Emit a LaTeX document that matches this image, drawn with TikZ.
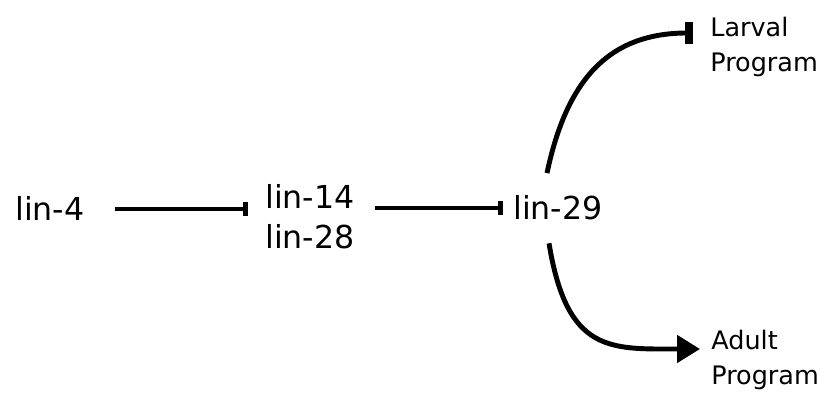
\documentclass[tikz,border=0pt]{standalone}
\usepackage{fontspec}
\setmainfont{DejaVu Sans}
\usetikzlibrary{arrows.meta}

\begin{document}
\begin{tikzpicture}[
  gene/.style={inner sep=0pt, font=\fontsize{18}{22.7}\selectfont, align=center},
  prog/.style={inner sep=0pt, font=\fontsize{14.5}{19.5}\selectfont, align=left},
  inhibit/.style={line width=2.3pt, -{Bar[width=0.28cm, line width=2.8pt]}},
  curve/.style={line width=2.8pt}
]
\useasboundingbox (0,0) rectangle (16.54,7.94);

\node[gene, anchor=base west] (lin4) at (0.30,3.52) {lin-4};
\node[gene, anchor=north west] (lin1428) at (5.30,4.26) {lin-14\\lin-28};
\node[gene, anchor=base west] (lin29) at (10.26,3.54) {lin-29};
\node[prog, anchor=west] (larval) at (14.20,7.00) {Larval\\Program};
\node[prog, anchor=west] (adult) at (14.22,0.74) {Adult\\Program};

\draw[inhibit, shorten <=0.6cm, shorten >=0.34cm] (lin4.east) -- (lin4.east -| lin1428.west);
\draw[inhibit, shorten <=0.4cm, shorten >=0.2cm] (lin1428.east |- lin29.west) -- (lin29.west);
\draw[curve, -{Bar[width=0.44cm, line width=4.5pt]}] ([xshift=-0.22cm,yshift=0.45cm]lin29.north)
  .. controls +(0.4,1.9) and +(-1.66,0) .. ([xshift=-0.34cm,yshift=0.28cm]larval.west);
\draw[curve, -{Triangle[length=0.46cm, width=0.54cm]}] ([xshift=-0.18cm,yshift=-0.45cm]lin29.south)
  .. controls +(0.36,-2.2) and +(-1.8,0) .. ([xshift=-0.22cm,yshift=0.22cm]adult.west);
\end{tikzpicture}
\end{document}
